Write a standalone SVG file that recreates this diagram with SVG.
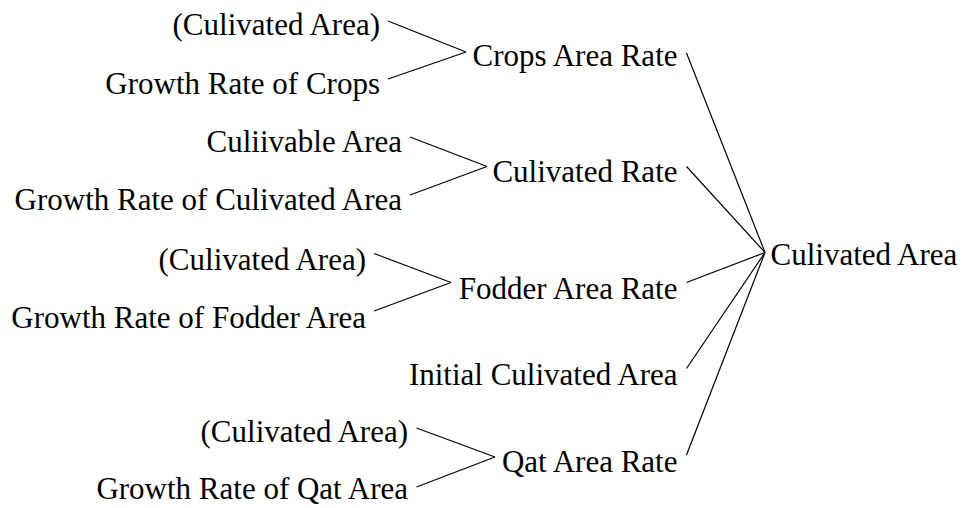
<svg xmlns="http://www.w3.org/2000/svg" width="962" height="508" viewBox="0 0 962 508">
  <style>
    .lbl { font-size: 31px; fill: #000; }
    .end { text-anchor: end; }
    .links line { stroke: #000; stroke-width: 1.2; fill: none; }
  </style>
  <rect width="962" height="508" fill="#fff"/>

  <!-- connectors -->
  <g id="connectors" class="links">
    <!-- Crops Area Rate inputs -->
    <line x1="388" y1="21" x2="466" y2="52"/>
    <line x1="388" y1="79" x2="466" y2="52"/>
    <!-- Culivated Rate inputs -->
    <line x1="410" y1="137" x2="487" y2="166.5"/>
    <line x1="410" y1="195" x2="487" y2="166.5"/>
    <!-- Fodder Area Rate inputs -->
    <line x1="374" y1="253.5" x2="451" y2="282.5"/>
    <line x1="374" y1="311" x2="451" y2="282.5"/>
    <!-- Qat Area Rate inputs -->
    <line x1="416.5" y1="428" x2="495" y2="457"/>
    <line x1="416.5" y1="487" x2="495" y2="457"/>
    <!-- Culivated Area inputs -->
    <line x1="686.5" y1="53" x2="765" y2="252.5"/>
    <line x1="686.5" y1="166.5" x2="765" y2="252.5"/>
    <line x1="686.5" y1="282.5" x2="765" y2="252.5"/>
    <line x1="686.5" y1="368.5" x2="765" y2="252.5"/>
    <line x1="686.5" y1="455" x2="765" y2="252.5"/>
  </g>

  <g font-family="'Liberation Serif', 'Times New Roman', Times, serif">
    <!-- left column -->
    <g id="n-cult-area-1"><text class="lbl end" x="380" y="35">(Culivated Area)</text></g>
    <g id="n-growth-crops"><text class="lbl end" x="380" y="93.5">Growth Rate of Crops</text></g>
    <g id="n-cultivable-area"><text class="lbl end" x="402" y="152">Culiivable Area</text></g>
    <g id="n-growth-cult-area"><text class="lbl end" x="402" y="209.5">Growth Rate of Culivated Area</text></g>
    <g id="n-cult-area-2"><text class="lbl end" x="366" y="269.5">(Culivated Area)</text></g>
    <g id="n-growth-fodder"><text class="lbl end" x="366" y="327.5">Growth Rate of Fodder Area</text></g>
    <g id="n-cult-area-3"><text class="lbl end" x="408" y="441.5">(Culivated Area)</text></g>
    <g id="n-growth-qat"><text class="lbl end" x="408" y="499">Growth Rate of Qat Area</text></g>

    <!-- middle column -->
    <g id="n-crops-rate"><text class="lbl end" x="677.5" y="65.5">Crops Area Rate</text></g>
    <g id="n-cult-rate"><text class="lbl end" x="677.5" y="181.5">Culivated Rate</text></g>
    <g id="n-fodder-rate"><text class="lbl end" x="677.5" y="298.5">Fodder Area Rate</text></g>
    <g id="n-initial-area"><text class="lbl end" x="677.5" y="384.5">Initial Culivated Area</text></g>
    <g id="n-qat-rate"><text class="lbl end" x="677.5" y="471.5">Qat Area Rate</text></g>

    <!-- root -->
    <g id="n-cult-area"><text class="lbl" x="770.5" y="265">Culivated Area</text></g>
  </g>
</svg>
